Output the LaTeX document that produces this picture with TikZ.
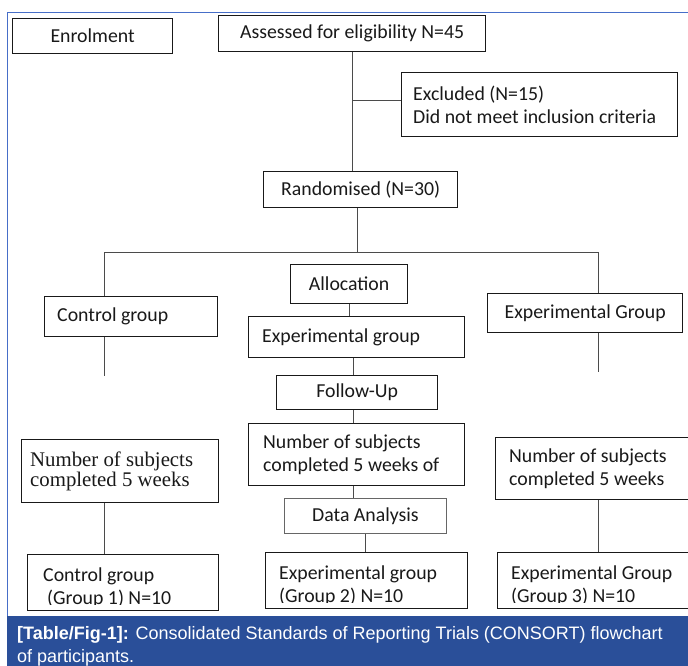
\documentclass[tikz,border=0pt]{standalone}
\usepackage{fontspec}
\setmainfont{Carlito}
\newfontfamily\tmsfont{Liberation Serif}
\newfontfamily\arialfont{Liberation Sans}
\definecolor{capblue}{RGB}{42,79,153}
\definecolor{framblue}{RGB}{70,110,200}
\definecolor{inkc}{RGB}{25,25,25}
\definecolor{linec}{RGB}{75,75,75}
\begin{document}
\begin{tikzpicture}[x=1pt,y=-1pt,
  box/.style={draw=inkc, line width=1.3pt, fill=white, inner sep=0pt, anchor=north west,
    font=\fontsize{19.8}{23.5}\selectfont, text=inkc},
  thinbox/.style={box, draw=black!60, line width=0.8pt},
  txt/.style={inner sep=0pt, anchor=west, align=left, font=\fontsize{19.8}{23.5}\selectfont, text=inkc},
  serif/.style={txt, font=\tmsfont\fontsize{20.8}{20.5}\selectfont},
  conn/.style={draw=linec, line width=0.9pt},
  captxt/.style={inner sep=0pt, anchor=base west, text=white, font=\arialfont\fontsize{18}{22}\selectfont}]
\useasboundingbox (0,0) rectangle (688,666);

% junction coordinates
\coordinate (j)  at (357,252);
\coordinate (hl) at (104,252);
\coordinate (hr) at (598,252);
\coordinate (cl) at (104,376);
\coordinate (cr) at (598,372);
\coordinate (eb) at (352,100);
\coordinate (mx) at (353,400);

% boxes
\node[box, minimum width=160, minimum height=35] (enrol) at (12,18) {Enrolment};
\node[box, minimum width=267, minimum height=36] (assess) at (218,15) {Assessed for eligibility N=45};
\node[box, minimum width=276, minimum height=64] (excl) at (401,72) {};
\node[box, minimum width=194, minimum height=36] (rand) at (263,171) {Randomised (N=30)};
\node[box, minimum width=117, minimum height=39] (alloc) at (290,264) {Allocation};
\node[box, minimum width=173, minimum height=40] (ctrl) at (44,296) {};
\node[box, minimum width=216, minimum height=41] (expm) at (248,316) {};
\node[box, minimum width=195, minimum height=39] (expr) at (487,293) {Experimental Group};
\node[box, minimum width=161, minimum height=34] (fol) at (276,375) {Follow-Up};
\node[box, minimum width=197, minimum height=63] (numl) at (21,439) {};
\node[box, minimum width=216, minimum height=62] (numm) at (248,423) {};
\node[box, minimum width=200, minimum height=62] (numr) at (495,437) {};
\node[thinbox, minimum width=162, minimum height=35] (data) at (284,498) {Data Analysis};
\node[box, minimum width=191, minimum height=56] (botl) at (27,554) {};
\node[box, minimum width=202, minimum height=56] (botm) at (265,552) {};
\node[box, minimum width=200, minimum height=56] (botr) at (497,552) {};

% connectors
\draw[conn] (assess.south) -- (assess.south |- rand.north);
\draw[conn] (eb) -- (eb -| excl.west);
\draw[conn] (rand.south -| j) -- (j);
\draw[conn] (hl) -- (hr);
\draw[conn] (hl) -- (hl |- ctrl.north);
\draw[conn] (hr) -- (hr |- expr.north);
\draw[conn] (hl |- ctrl.south) -- (cl);
\draw[conn] (hr |- expr.south) -- (cr);
\draw[conn] (alloc.south) -- (alloc.south |- expm.north);
\draw[conn] (mx |- expm.south) -- (mx |- fol.north);
\draw[conn] (mx |- fol.south) -- (mx |- numm.north);
\draw[conn] (mx |- numm.south) -- (mx |- data.north);
\draw[conn] (data.south) -- (data.south |- botm.north);
\draw[conn] (cl |- numl.south) -- (cl |- botl.north);
\draw[conn] (cr |- numr.south) -- (cr |- botr.north);

% texts of left-aligned boxes
\node[txt, xshift=12] (exclt) at (excl.west) {Excluded (N=15)\\Did not meet inclusion criteria};
\node[txt, xshift=13] (ctrlt) at (ctrl.west) {Control group};
\node[txt, xshift=14] (expmt) at (expm.west) {Experimental group};
\node[serif, xshift=9] (numlt) at (numl.west) {Number of subjects\\completed 5 weeks};
\node[txt, xshift=15] (nummt) at (numm.west) {Number of subjects\\completed 5 weeks of};
\node[txt, xshift=14] (numrt) at (numr.west) {Number of subjects\\completed 5 weeks};
\begin{scope}
  \clip (27,554) rectangle (218,604);
  \node[txt, xshift=16, yshift=-5] (botlt) at (botl.west) {Control group\\\hspace*{4pt}(Group 1) N=10};
\end{scope}
\begin{scope}
  \clip (265,552) rectangle (467,602);
  \node[txt, xshift=14, yshift=-5] (botmt) at (botm.west) {Experimental group\\(Group 2) N=10};
\end{scope}
\begin{scope}
  \clip (497,552) rectangle (697,602);
  \node[txt, xshift=14, yshift=-5] (botrt) at (botr.west) {Experimental Group\\(Group 3) N=10};
\end{scope}

% frame and caption
\draw[framblue, line width=0.9pt] (7,616) -- (7,12) -- (700,12);
\fill[capblue] (7,616) rectangle (700,670);
\node[captxt] (cap1) at (17,639) {\textbf{[Table/Fig-1]:} Consolidated Standards of Reporting Trials (CONSORT) flowchart};
\node[captxt] (cap2) at (17,662) {of participants.};
\end{tikzpicture}
\end{document}
